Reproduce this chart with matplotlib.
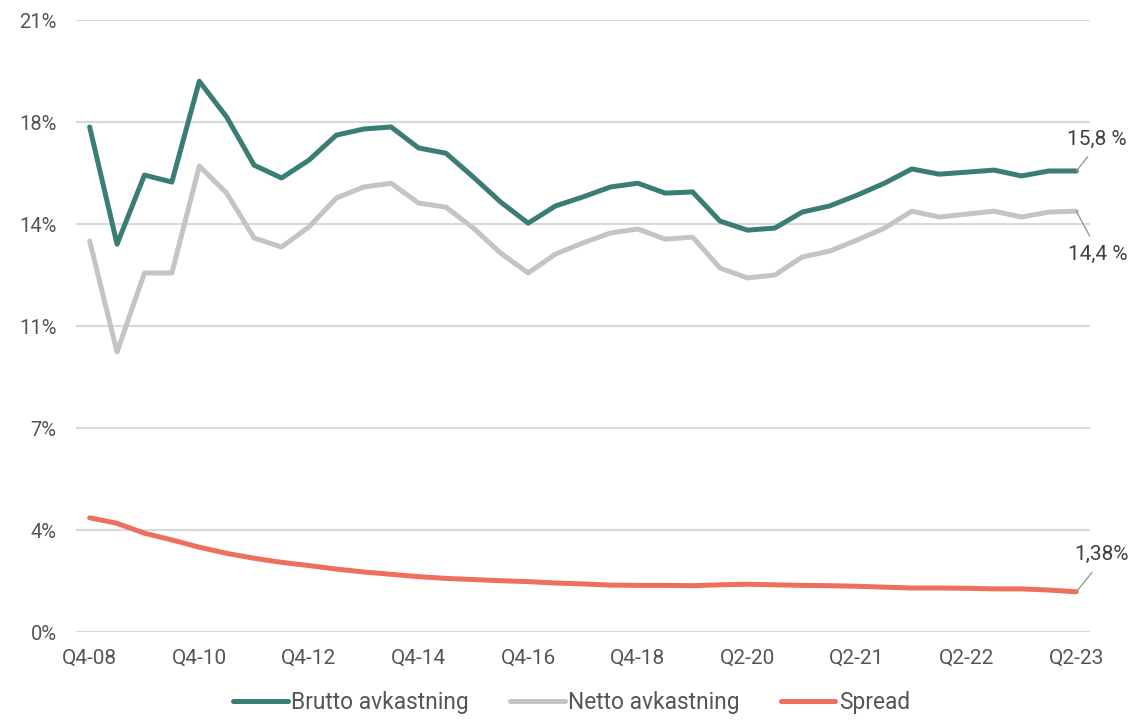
import numpy as np
import matplotlib.pyplot as plt

plt.rcParams['font.family'] = ['Roboto', 'DejaVu Sans']

# Code starts here
quarters = ['Q4-08', 'Q2-09', 'Q4-09', 'Q2-10', 'Q4-10', 'Q2-11', 'Q4-11', 'Q2-12',
            'Q4-12', 'Q2-13', 'Q4-13', 'Q2-14', 'Q4-14', 'Q2-15', 'Q4-15', 'Q2-16',
            'Q4-16', 'Q2-17', 'Q4-17', 'Q2-18', 'Q4-18', 'Q2-19', 'Q4-19', 'Q1-20',
            'Q2-20', 'Q3-20', 'Q4-20', 'Q1-21', 'Q2-21', 'Q3-21', 'Q4-21', 'Q1-22',
            'Q2-22', 'Q3-22', 'Q4-22', 'Q1-23', 'Q2-23']

brutto = [17.33, 13.31, 15.68, 15.44, 18.90, 17.67, 16.02, 15.58, 16.19, 17.05,
          17.26, 17.33, 16.61, 16.43, 15.61, 14.75, 14.03, 14.62, 14.93, 15.27,
          15.40, 15.06, 15.10, 14.10, 13.79, 13.86, 14.41, 14.62, 14.99, 15.40,
          15.89, 15.71, 15.78, 15.85, 15.65, 15.82, 15.82]

netto = [13.42, 9.61, 12.32, 12.32, 15.99, 15.06, 13.52, 13.21, 13.90, 14.89,
         15.27, 15.40, 14.72, 14.58, 13.86, 13.00, 12.32, 12.97, 13.35, 13.69,
         13.83, 13.48, 13.55, 12.49, 12.15, 12.25, 12.87, 13.07, 13.45, 13.86,
         14.44, 14.24, 14.34, 14.44, 14.24, 14.41, 14.44]

spread = [3.92, 3.73, 3.39, 3.16, 2.91, 2.70, 2.53, 2.39, 2.28, 2.16,
          2.06, 1.98, 1.90, 1.84, 1.80, 1.76, 1.73, 1.68, 1.65, 1.61,
          1.60, 1.60, 1.59, 1.62, 1.64, 1.62, 1.60, 1.59, 1.57, 1.54,
          1.51, 1.51, 1.50, 1.48, 1.48, 1.44, 1.38]

end_labels = ['15,8 %', '14,4 %', '1,38%']

green = '#3a7d74'
grey = '#c4c4c4'
red = '#ee6f60'
text_col = '#555555'

x = np.arange(len(quarters))

fig = plt.figure(figsize=(11.32, 7.2), dpi=100)
ax = fig.add_axes([0.0671, 0.1222, 0.8958, 0.85])

ax.plot(x, brutto, color=green, lw=3.6, solid_capstyle='round', solid_joinstyle='round',
        label='Brutto avkastning', zorder=3)
ax.plot(x, netto, color=grey, lw=3.6, solid_capstyle='round', solid_joinstyle='round',
        label='Netto avkastning', zorder=2)
ax.plot(x, spread, color=red, lw=3.6, solid_capstyle='round', solid_joinstyle='round',
        label='Spread', zorder=2)

ax.set_xlim(-0.5, 36.5)
ax.set_ylim(0, 21)

yt = np.arange(0, 21.01, 3.5)
ax.set_yticks(yt)
ax.set_yticklabels(['0%', '4%', '7%', '11%', '14%', '18%', '21%'])
ax.grid(axis='y', color='#d9d9d9', lw=1.5)
ax.set_axisbelow(True)

ax.set_xticks(x[::4])
ax.set_xticklabels(quarters[::4])

for s in ax.spines.values():
    s.set_visible(False)
ax.tick_params(axis='both', length=0, labelcolor=text_col)
ax.tick_params(axis='x', pad=12, labelsize=15)
ax.tick_params(axis='y', pad=14, labelsize=14.5)

# end labels
conn = dict(arrowstyle='-', color='#999999', lw=1, shrinkA=5, shrinkB=0)
ax.annotate(end_labels[0], xy=(x[-1], brutto[-1]), xytext=(21, 32), textcoords='offset pixels',
            ha='center', va='center', fontsize=15, color='#404040',
            arrowprops=dict(conn, relpos=(0.45, 0)), annotation_clip=False)
ax.annotate(end_labels[1], xy=(x[-1], netto[-1]), xytext=(21, -43), textcoords='offset pixels',
            ha='center', va='center', fontsize=15, color='#404040',
            arrowprops=dict(conn, relpos=(0.45, 1)), annotation_clip=False)
ax.annotate(end_labels[2], xy=(x[-1], spread[-1]), xytext=(25, 37), textcoords='offset pixels',
            ha='center', va='center', fontsize=15, color='#404040',
            arrowprops=dict(conn, relpos=(0.45, 0)), annotation_clip=False)

leg = fig.legend(loc='center', bbox_to_anchor=(0.505, 0.024), ncol=3, frameon=False,
                 fontsize=16.4, handlelength=2.4, handletextpad=0.15, columnspacing=1.8,
                 borderpad=0.1)
for t in leg.get_texts():
    t.set_color(text_col)

plt.savefig('out.png', dpi=100)
